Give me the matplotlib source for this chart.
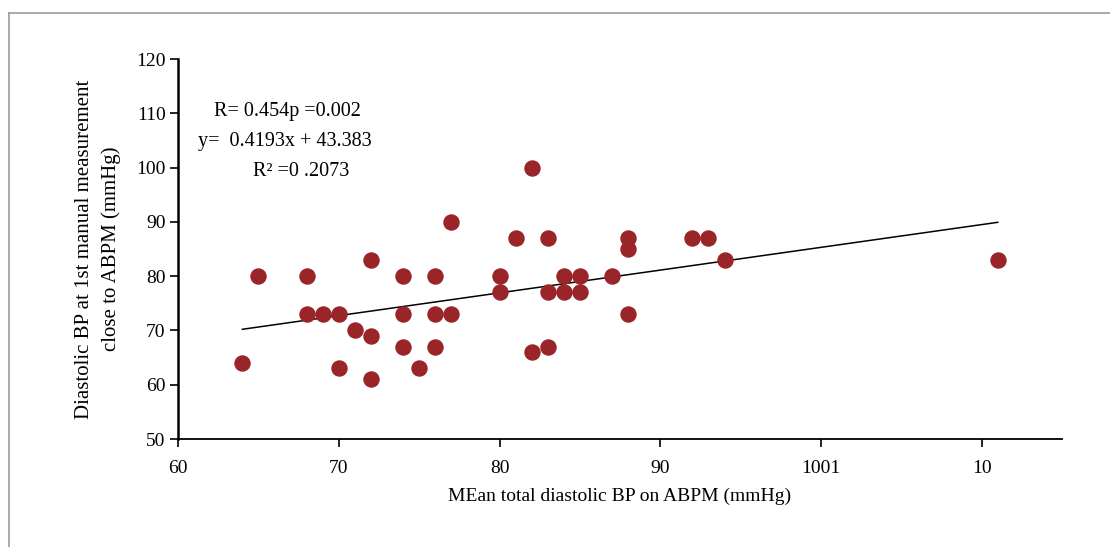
import matplotlib
matplotlib.use("Agg")
import matplotlib.pyplot as plt
from matplotlib.lines import Line2D
import numpy as np

plt.rcParams['font.family'] = ['Liberation Serif', 'DejaVu Serif']

# Data
mean_abpm_dbp = [64, 65, 68, 68, 69, 70, 71, 70, 72, 72, 72, 74, 74, 74, 75, 76, 76, 76, 77, 77,
                 80, 80, 81, 82, 82, 83, 83, 83, 84, 84, 85, 85, 87, 88, 88, 88, 92, 93, 94, 111]
manual_dbp = [64, 80, 80, 73, 73, 73, 70, 63, 83, 69, 61, 80, 73, 67, 63, 80, 73, 67, 90, 73,
              80, 77, 87, 100, 66, 87, 77, 67, 80, 77, 80, 77, 80, 87, 85, 73, 87, 87, 83, 83]
slope = 0.4193
intercept = 43.383
x_ticks = [60, 70, 80, 90, 100, 110]
x_tick_labels = ["60", "70", "80", "90", "1001", "10"]
y_ticks = [50, 60, 70, 80, 90, 100, 110, 120]
annotations = ["R= 0.454p =0.002", "y=  0.4193x + 43.383", "R\u00b2 =0 .2073"]

fig = plt.figure(figsize=(11.10, 5.47), dpi=100)
ax = fig.add_axes([0.1604, 0.1974, 0.9568 - 0.1604, 0.892 - 0.1974])

ax.scatter(mean_abpm_dbp, manual_dbp, s=140, color='#9a2529', zorder=3, linewidths=0)

xl = np.array([min(mean_abpm_dbp), max(mean_abpm_dbp)])
ax.plot(xl, slope * xl + intercept, color='black', lw=1.1, zorder=2)

ax.set_xlim(60, 115)
ax.set_ylim(50, 120)
ax.set_xticks(x_ticks)
ax.set_xticklabels(x_tick_labels)
ax.set_yticks(y_ticks)
ax.tick_params(axis='both', direction='out', length=6, width=1.2, labelsize=14, colors='black')
ax.tick_params(axis='x', pad=9)
ax.tick_params(axis='y', pad=3)

for s in ['top', 'right']:
    ax.spines[s].set_visible(False)
ax.spines['left'].set_linewidth(1.8)
ax.spines['bottom'].set_linewidth(1.3)

ax.set_xlabel("MEan total diastolic BP on ABPM (mmHg)", fontsize=14, labelpad=8)
ax.set_ylabel("Diastolic BP at 1st manual measurement\nclose to ABPM (mmHg)", fontsize=15,
              labelpad=11, linespacing=1.45)

fig.text(287 / 1110, 1 - 111 / 547, annotations[0], fontsize=14.5, ha='center', va='center')
fig.text(198 / 1110, 1 - 142 / 547, annotations[1], fontsize=14.5, ha='left', va='center')
fig.text(253 / 1110, 1 - 172 / 547, annotations[2], fontsize=14.5, ha='left', va='center')

# outer frame (left and top edges)
fig.add_artist(Line2D([9 / 1110, 9 / 1110], [0, 1 - 13 / 547], transform=fig.transFigure,
                      color='#9a9a9a', lw=1.2))
fig.add_artist(Line2D([9 / 1110, 1], [1 - 13 / 547, 1 - 13 / 547], transform=fig.transFigure,
                      color='#9a9a9a', lw=1.2))

fig.savefig("out.png", dpi=100)
